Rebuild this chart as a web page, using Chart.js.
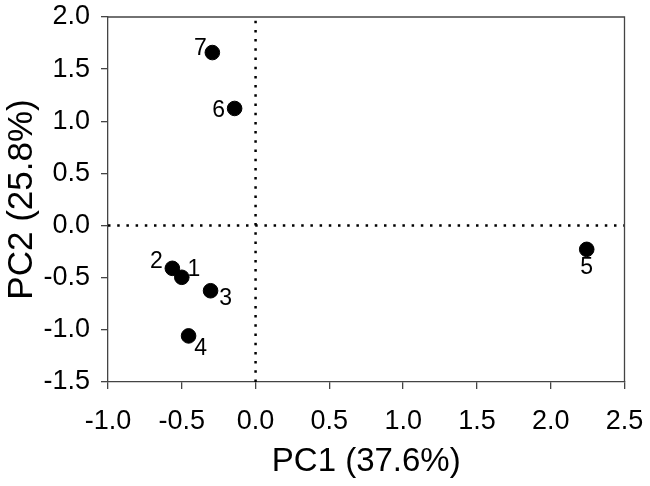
<!DOCTYPE html>
<html>
<head>
<meta charset="utf-8">
<script src="https://cdn.jsdelivr.net/npm/chart.js@4"></script>
<style>
  html, body { margin: 0; padding: 0; background: #fff; }
  #pca { display: block; }
</style>
</head>
<body>
<canvas id="pca" width="650" height="486"></canvas>
<script>
// PCA scores
const sampleNames = ['1', '2', '3', '4', '5', '6', '7'];
const pc1Scores = [-0.50, -0.564, -0.305, -0.454, 2.244, -0.142, -0.293];
const pc2Scores = [-0.496, -0.410, -0.625, -1.058, -0.228, 1.123, 1.659];

const xTicks = [-1.0, -0.5, 0.0, 0.5, 1.0, 1.5, 2.0, 2.5];
const yTicks = [-1.5, -1.0, -0.5, 0.0, 0.5, 1.0, 1.5, 2.0];

const xTitle = 'PC1 (37.6%)';
const yTitle = 'PC2 (25.8%)';

// label offsets from each marker, in px (style only)
const labelOffsets = [[12, -8], [-16, -7], [15, 8], [12, 13], [0, 18], [-16, 2], [-12, -4]];

const FONT = "'Liberation Sans', Arial, sans-serif";

const points = pc1Scores.map((x, i) => ({ x: x, y: pc2Scores[i] }));
const xMin = xTicks[0], xMax = xTicks[xTicks.length - 1];
const yMin = yTicks[0], yMax = yTicks[yTicks.length - 1];

const pointLabels = {
    id: 'pointLabels',
    afterDatasetsDraw(chart) {
        const ctx = chart.ctx;
        const meta = chart.getDatasetMeta(0);
        ctx.save();
        ctx.font = '23px ' + FONT;
        ctx.fillStyle = '#000';
        ctx.textAlign = 'center';
        ctx.textBaseline = 'middle';
        meta.data.forEach((pt, i) => {
            const off = labelOffsets[i];
            ctx.fillText(sampleNames[i], pt.x + off[0], pt.y + off[1]);
        });
        ctx.restore();
    }
};

// top and right edges of the frame
const frame = {
    id: 'frame',
    afterDraw(chart) {
        const { ctx, chartArea: a } = chart;
        ctx.save();
        ctx.strokeStyle = '#444';
        ctx.lineWidth = 1.3;
        ctx.beginPath();
        ctx.moveTo(a.left, a.top);
        ctx.lineTo(a.right, a.top);
        ctx.lineTo(a.right, a.bottom);
        ctx.stroke();
        ctx.restore();
    }
};

const dotted = {
    showLine: true,
    pointRadius: 0,
    borderColor: '#000',
    borderWidth: 2.5,
    borderDash: [2.5, 6.7],
    borderCapStyle: 'butt'
};

new Chart(document.getElementById('pca'), {
    type: 'scatter',
    data: {
        datasets: [
            {
                data: points,
                backgroundColor: '#000',
                borderColor: '#000',
                pointRadius: 7.3,
                pointHoverRadius: 7.3
            },
            Object.assign({ data: [{ x: 0, y: yMin }, { x: 0, y: yMax }] }, dotted),
            Object.assign({ data: [{ x: xMin, y: 0 }, { x: xMax, y: 0 }] }, dotted)
        ]
    },
    options: {
        responsive: false,
        animation: false,
        devicePixelRatio: 1,
        layout: { padding: { left: 0, right: 25.5, top: 17, bottom: 0 } },
        plugins: {
            legend: { display: false },
            tooltip: { enabled: false }
        },
        scales: {
            x: {
                type: 'linear',
                min: xMin,
                max: xMax,
                afterBuildTicks: (s) => { s.ticks = xTicks.map(v => ({ value: v })); },
                afterFit: (s) => {
                    s.height = 104;
                    s.paddingLeft = 0;
                    s.paddingRight = 0;
                },
                ticks: {
                    color: '#000',
                    font: { family: FONT, size: 27 },
                    padding: 16,
                    maxRotation: 0,
                    callback: (v) => v.toFixed(1)
                },
                grid: {
                    drawOnChartArea: false,
                    tickLength: 7,
                    color: '#444',
                    lineWidth: 1.3
                },
                border: { display: true, color: '#444', width: 1.3 },
                title: {
                    display: true,
                    text: xTitle,
                    color: '#000',
                    font: { family: FONT, size: 33 },
                    padding: { top: 0, bottom: 4 }
                }
            },
            y: {
                type: 'linear',
                min: yMin,
                max: yMax,
                afterBuildTicks: (s) => { s.ticks = yTicks.map(v => ({ value: v })); },
                afterFit: (s) => {
                    s.width = 108;
                    s.paddingTop = 0;
                    s.paddingBottom = 0;
                },
                ticks: {
                    color: '#000',
                    font: { family: FONT, size: 27 },
                    padding: 11,
                    callback: (v) => v.toFixed(1)
                },
                grid: {
                    drawOnChartArea: false,
                    tickLength: 7,
                    color: '#444',
                    lineWidth: 1.3
                },
                border: { display: true, color: '#444', width: 1.3 },
                title: {
                    display: true,
                    text: yTitle,
                    color: '#000',
                    font: { family: FONT, size: 35 },
                    padding: { top: 1, bottom: 0 }
                }
            }
        }
    },
    plugins: [pointLabels, frame]
});
</script>
</body>
</html>
